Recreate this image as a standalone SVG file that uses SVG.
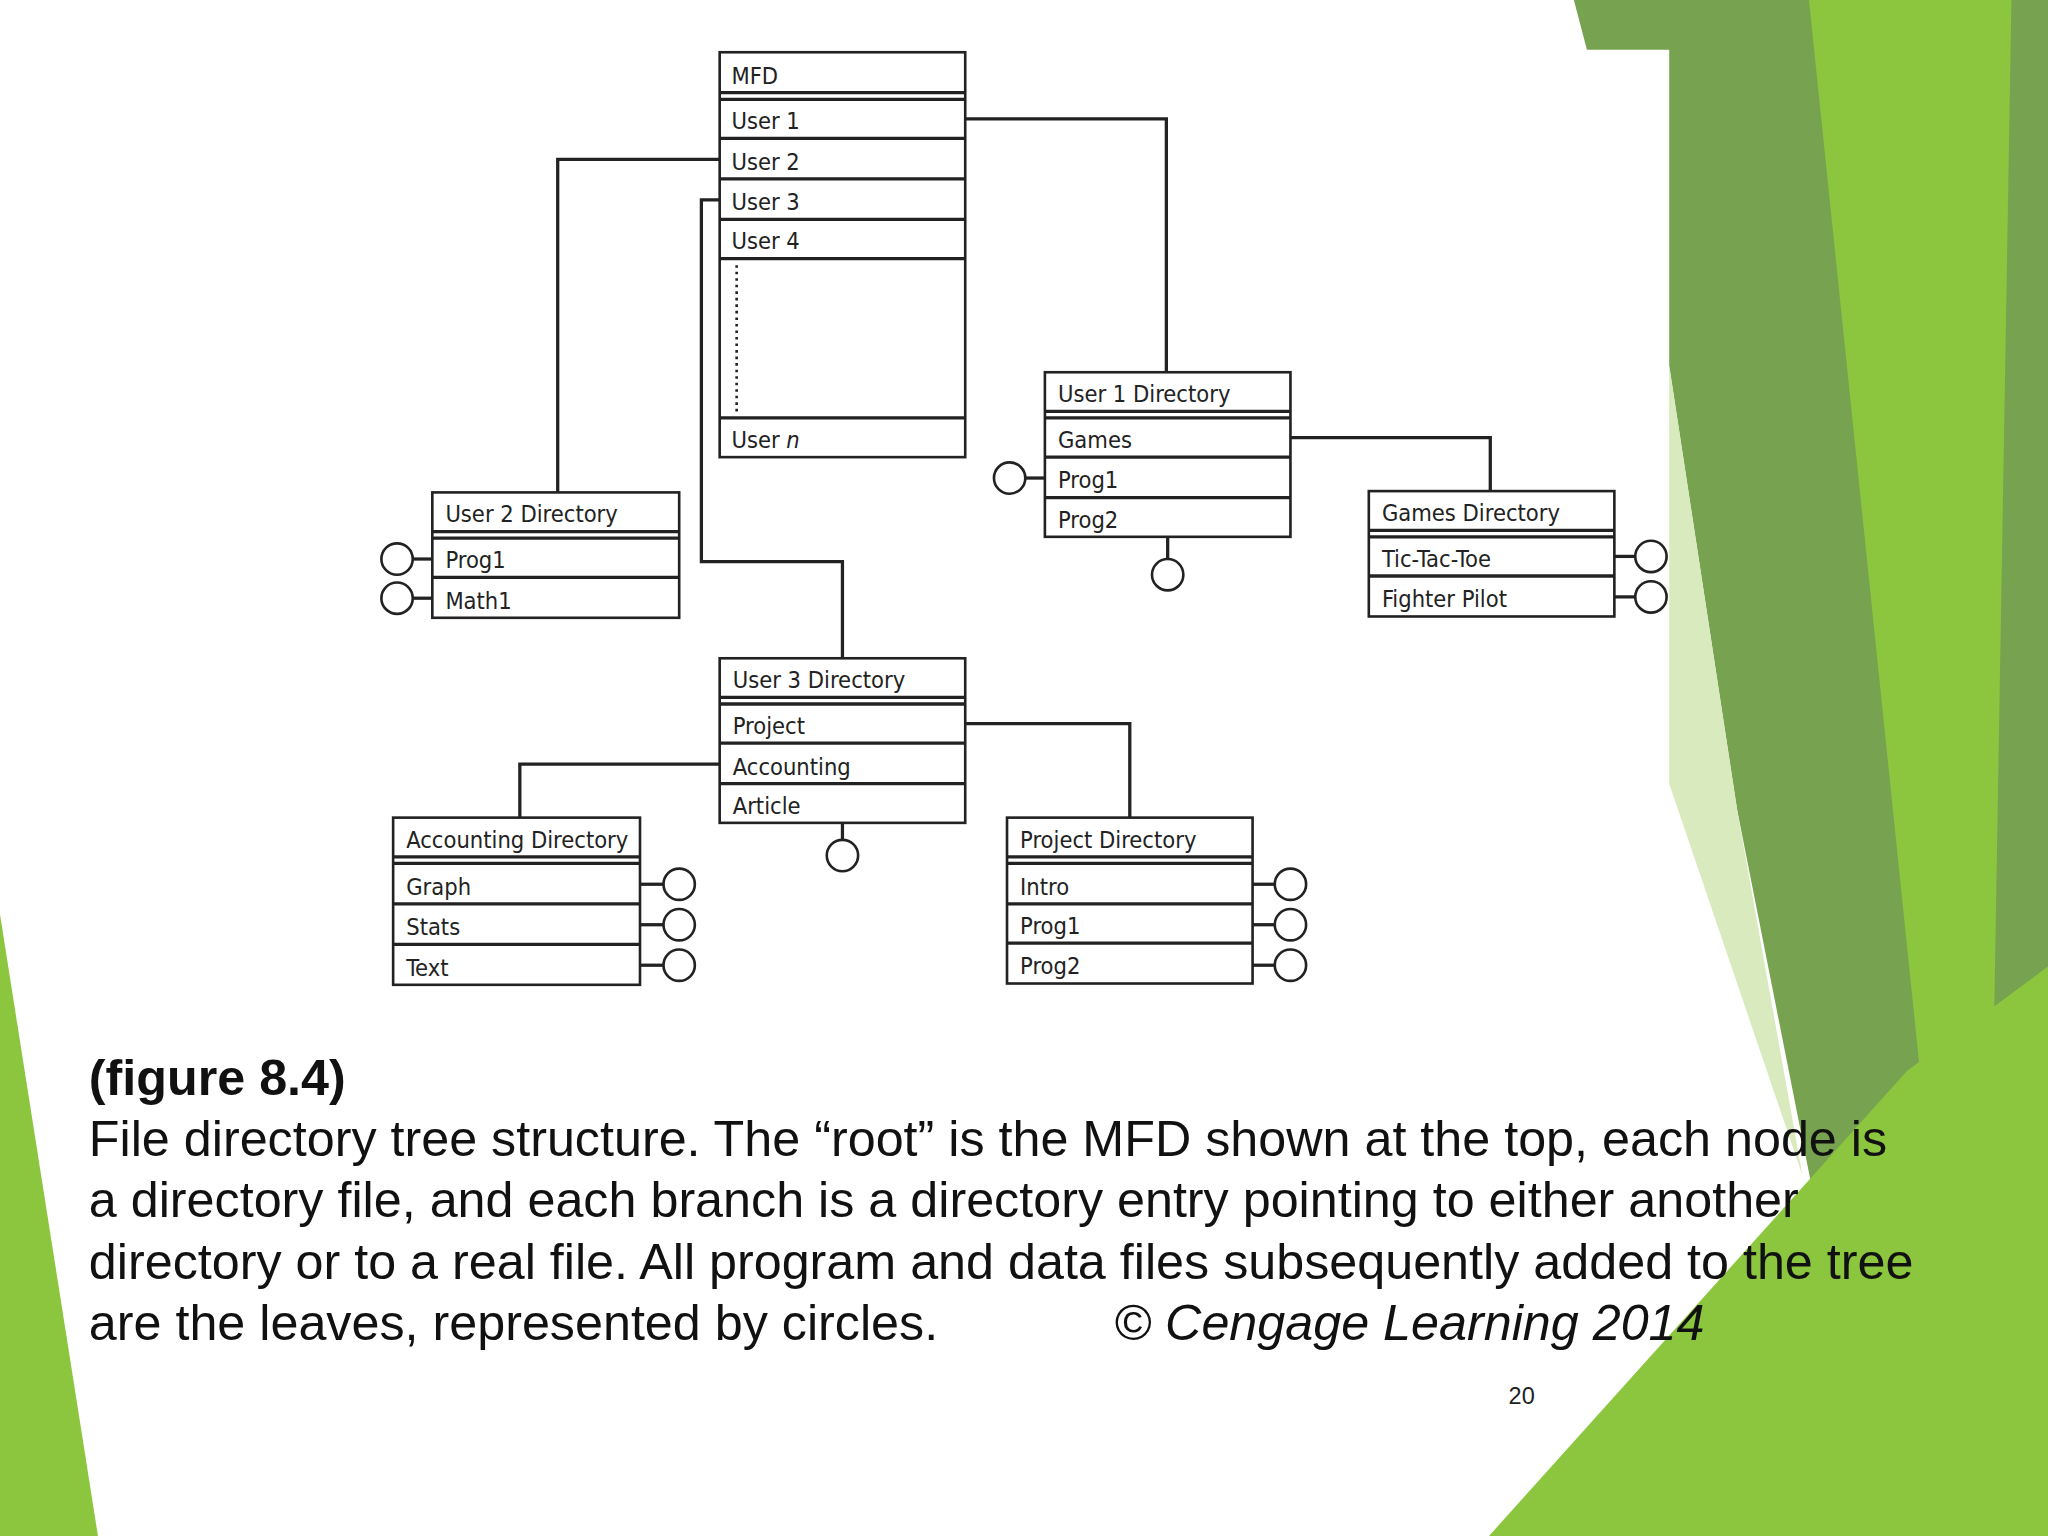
<svg xmlns="http://www.w3.org/2000/svg" width="2048" height="1536" viewBox="0 0 2048 1536">
<style>
.b{fill:#fff;stroke:#222;stroke-width:2}
.l{fill:none;stroke:#222;stroke-width:2.5}
.c{fill:#fff;stroke:#222;stroke-width:2}
.t{font-family:"DejaVu Sans Condensed","Liberation Sans",sans-serif;font-size:18px;fill:#222}
.cap{font-family:"Liberation Sans",Arial,sans-serif;font-size:38.5px;fill:#111}
</style>
<rect width="2048" height="1536" fill="#fff"/>
<g transform="scale(1.30612)">
<g id="background">
<polygon points="1205,0 1568,0 1568,1176 1440,1176 1330,620 1278,280 1278,38 1215,38" fill="#77a350"/>
<polygon points="1278,280 1330,620 1380,900 1278,600" fill="#d9eabf"/>
<polygon points="1385,0 1540,0 1520,1176 1440,1176 1470,820" fill="#8cc63e"/>
<polygon points="1140,1176 1460,820 1568,740 1568,1176" fill="#8cc63e"/>
<polygon points="0,700 75,1176 0,1176" fill="#8cc63e"/>
</g>
<g id="connectors">
<polyline class="l" points="739,91 893,91 893,285"/>
<polyline class="l" points="551,122 427,122 427,377"/>
<polyline class="l" points="551,153 537,153 537,430 645,430 645,504"/>
<polyline class="l" points="988,335 1141,335 1141,376"/>
<polyline class="l" points="739,554 865,554 865,626"/>
<polyline class="l" points="551,585 398,585 398,626"/>
<line class="l" x1="785" y1="366" x2="800" y2="366"/><circle class="c" cx="773" cy="366" r="12"/>
<line class="l" x1="894" y1="411" x2="894" y2="428"/><circle class="c" cx="894" cy="440" r="12"/>
<line class="l" x1="316" y1="428" x2="331" y2="428"/><circle class="c" cx="304" cy="428" r="12"/>
<line class="l" x1="316" y1="458" x2="331" y2="458"/><circle class="c" cx="304" cy="458" r="12"/>
<line class="l" x1="1236" y1="426" x2="1252" y2="426"/><circle class="c" cx="1264" cy="426" r="12"/>
<line class="l" x1="1236" y1="457" x2="1252" y2="457"/><circle class="c" cx="1264" cy="457" r="12"/>
<line class="l" x1="645" y1="630" x2="645" y2="643"/><circle class="c" cx="645" cy="655" r="12"/>
<line class="l" x1="490" y1="677" x2="508" y2="677"/><circle class="c" cx="520" cy="677" r="12"/>
<line class="l" x1="490" y1="708" x2="508" y2="708"/><circle class="c" cx="520" cy="708" r="12"/>
<line class="l" x1="490" y1="739" x2="508" y2="739"/><circle class="c" cx="520" cy="739" r="12"/>
<line class="l" x1="959" y1="677" x2="976" y2="677"/><circle class="c" cx="988" cy="677" r="12"/>
<line class="l" x1="959" y1="708" x2="976" y2="708"/><circle class="c" cx="988" cy="708" r="12"/>
<line class="l" x1="959" y1="739" x2="976" y2="739"/><circle class="c" cx="988" cy="739" r="12"/>
</g>
<g id="mfd">
<rect class="b" x="551" y="40" width="188" height="310"/>
<line class="l" x1="551" y1="71" x2="739" y2="71"/><line class="l" x1="551" y1="76" x2="739" y2="76"/>
<line class="l" x1="551" y1="106" x2="739" y2="106"/><line class="l" x1="551" y1="137" x2="739" y2="137"/>
<line class="l" x1="551" y1="168" x2="739" y2="168"/><line class="l" x1="551" y1="198" x2="739" y2="198"/>
<line class="l" x1="551" y1="320" x2="739" y2="320"/>
<line x1="564" y1="203" x2="564" y2="315" stroke="#222" stroke-width="2" stroke-dasharray="2,3"/>
<text class="t" x="560" y="64">MFD</text>
<text class="t" x="560" y="99">User 1</text><text class="t" x="560" y="130">User 2</text>
<text class="t" x="560" y="161">User 3</text><text class="t" x="560" y="191">User 4</text>
<text class="t" x="560" y="343">User <tspan font-style="italic">n</tspan></text>
</g>
<g id="user1">
<rect class="b" x="800" y="285" width="188" height="126"/>
<line class="l" x1="800" y1="315" x2="988" y2="315"/><line class="l" x1="800" y1="320" x2="988" y2="320"/>
<line class="l" x1="800" y1="350" x2="988" y2="350"/><line class="l" x1="800" y1="381" x2="988" y2="381"/>
<text class="t" x="810" y="308">User 1 Directory</text><text class="t" x="810" y="343">Games</text>
<text class="t" x="810" y="374">Prog1</text><text class="t" x="810" y="404">Prog2</text>
</g>
<g id="games">
<rect class="b" x="1048" y="376" width="188" height="96"/>
<line class="l" x1="1048" y1="406" x2="1236" y2="406"/><line class="l" x1="1048" y1="411" x2="1236" y2="411"/>
<line class="l" x1="1048" y1="441" x2="1236" y2="441"/>
<text class="t" x="1058" y="399">Games Directory</text><text class="t" x="1058" y="434">Tic-Tac-Toe</text>
<text class="t" x="1058" y="465">Fighter Pilot</text>
</g>
<g id="user2">
<rect class="b" x="331" y="377" width="189" height="96"/>
<line class="l" x1="331" y1="407" x2="520" y2="407"/><line class="l" x1="331" y1="412" x2="520" y2="412"/>
<line class="l" x1="331" y1="442" x2="520" y2="442"/>
<text class="t" x="341" y="400">User 2 Directory</text><text class="t" x="341" y="435">Prog1</text>
<text class="t" x="341" y="466">Math1</text>
</g>
<g id="user3">
<rect class="b" x="551" y="504" width="188" height="126"/>
<line class="l" x1="551" y1="534" x2="739" y2="534"/><line class="l" x1="551" y1="539" x2="739" y2="539"/>
<line class="l" x1="551" y1="569" x2="739" y2="569"/><line class="l" x1="551" y1="600" x2="739" y2="600"/>
<text class="t" x="561" y="527">User 3 Directory</text><text class="t" x="561" y="562">Project</text>
<text class="t" x="561" y="593">Accounting</text><text class="t" x="561" y="623">Article</text>
</g>
<g id="accounting">
<rect class="b" x="301" y="626" width="189" height="128"/>
<line class="l" x1="301" y1="656" x2="490" y2="656"/><line class="l" x1="301" y1="661" x2="490" y2="661"/>
<line class="l" x1="301" y1="692" x2="490" y2="692"/><line class="l" x1="301" y1="723" x2="490" y2="723"/>
<text class="t" x="311" y="649">Accounting Directory</text><text class="t" x="311" y="685">Graph</text>
<text class="t" x="311" y="716">Stats</text><text class="t" x="311" y="747">Text</text>
</g>
<g id="project">
<rect class="b" x="771" y="626" width="188" height="127"/>
<line class="l" x1="771" y1="656" x2="959" y2="656"/><line class="l" x1="771" y1="661" x2="959" y2="661"/>
<line class="l" x1="771" y1="692" x2="959" y2="692"/><line class="l" x1="771" y1="722" x2="959" y2="722"/>
<text class="t" x="781" y="649">Project Directory</text><text class="t" x="781" y="685">Intro</text>
<text class="t" x="781" y="715">Prog1</text><text class="t" x="781" y="746">Prog2</text>
</g>
<g id="caption">
<text class="cap" x="68" y="838" font-weight="bold" font-size="36">(figure 8.4)</text>
<text class="cap" x="68" y="885">File directory tree structure. The “root” is the MFD shown at the top, each node is</text>
<text class="cap" x="68" y="932">a directory file, and each branch is a directory entry pointing to either another</text>
<text class="cap" x="68" y="979">directory or to a real file. All program and data files subsequently added to the tree</text>
<text class="cap" x="68" y="1026">are the leaves, represented by circles.</text>
<text class="cap" x="853" y="1026" font-style="italic" font-size="36">© Cengage Learning 2014</text>
<text x="1155" y="1075" font-family="Liberation Sans,Arial,sans-serif" font-size="18" fill="#222">20</text>
</g>
</g>
</svg>
